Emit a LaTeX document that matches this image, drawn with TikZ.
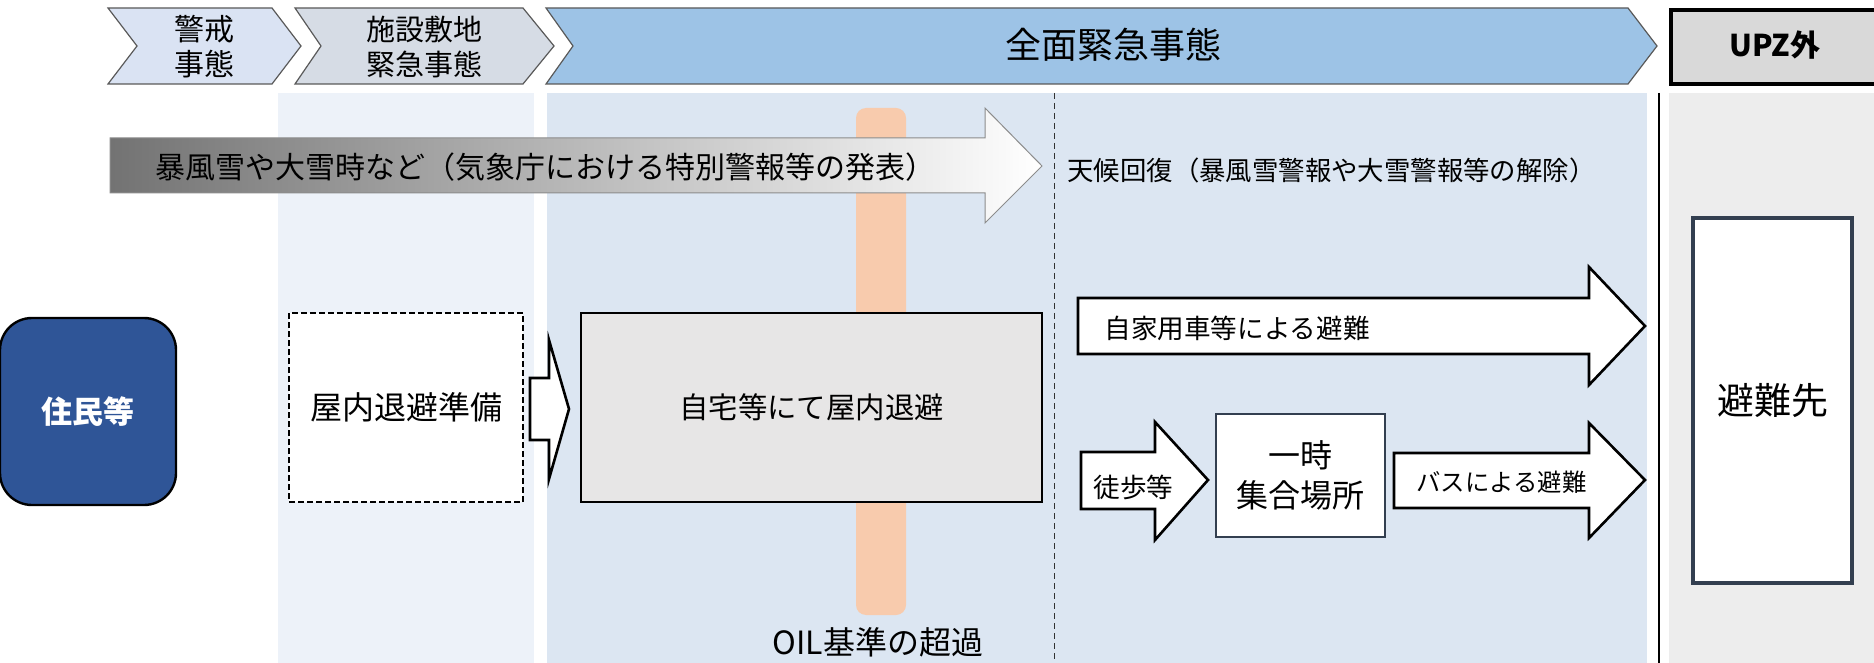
\documentclass[tikz,border=0pt]{standalone}
\usepackage{fontspec}
\setmainfont{Noto Sans CJK JP}
\definecolor{cOne}{HTML}{DAE3F3}
\definecolor{cTwo}{HTML}{D6DCE5}
\definecolor{cThree}{HTML}{9DC3E6}
\definecolor{cUpz}{HTML}{D9D9D9}
\definecolor{pOne}{HTML}{EDF2F9}
\definecolor{pTwo}{HTML}{DCE6F2}
\definecolor{pThree}{HTML}{EDEDED}
\definecolor{oBar}{HTML}{F8CBAD}
\definecolor{resBlue}{HTML}{2F5597}
\definecolor{homeGray}{HTML}{E7E6E6}
\definecolor{slate}{HTML}{333F50}
\begin{document}
\begin{tikzpicture}[x=0.5pt,y=-0.5pt,
  chev/.style={draw=black!65, line width=0.6pt},
  barrow/.style={draw=black, line width=1.3pt, fill=white, line join=miter},
  txt/.style={inner sep=0pt, text=black},
  boxline/.style={draw=black, line width=1.1pt},
]
\useasboundingbox (0,0) rectangle (1874,663);
% background panels
\fill[pOne] (278,93) rectangle (534,663);
\fill[pTwo] (547,93) rectangle (1647,663);
\fill[pThree] (1669,93) rectangle (1874,663);
\coordinate (lineTop) at (1659,93);
\coordinate (lineBot) at (1659,663);
\draw[line width=0.8pt] (lineTop) -- (lineBot);
\coordinate (dashTop) at (1054,93);
\coordinate (dashBot) at (1054,663);
\draw[black!80, line width=0.5pt, dash pattern=on 3pt off 2pt] (dashTop) -- (dashBot);
% orange bar
\fill[oBar, rounded corners=5pt] (856,108) rectangle (906,615);
% header chevrons
\draw[chev, fill=cOne] (108,8) -- (272,8) -- (301,46) -- (272,84) -- (108,84) -- (137,46) -- cycle;
\draw[chev, fill=cTwo] (295,8) -- (523,8) -- (554,46) -- (523,84) -- (295,84) -- (321,46) -- cycle;
\draw[chev, fill=cThree] (546,8) -- (1628,8) -- (1657,46) -- (1628,84) -- (546,84) -- (573,46) -- cycle;
\draw[line width=1.6pt, fill=cUpz] (1671,10) rectangle (1885,84);
\node[txt, font=\fontsize{15}{17.5}\selectfont, align=center] (alert) at (204,47) {警戒\\事態};
\node[txt, font=\fontsize{14.5}{17.5}\selectfont, align=center] (site) at (424,47) {施設敷地\\緊急事態};
\node[txt, font=\fontsize{18}{20}\selectfont] (general) at (1113,45) {全面緊急事態};
\node[txt, font=\fontsize{15}{18}\selectfont\bfseries] (upz) at (1775,45) {UPZ外};
% gradient arrow
\shade[left color=black!55, right color=white, draw=black!45, line width=0.5pt]
  (110,138) -- (985,138) -- (985,108) -- (1042,166) -- (985,223) -- (985,193) -- (110,193) -- cycle;
\node[txt, font=\fontsize{15}{18}\selectfont] (storm) at (545,167) {暴風雪や大雪時など（気象庁における特別警報等の発表）};
\node[txt, anchor=west, font=\fontsize{13.2}{16}\selectfont] (recover) at (1067,170) {天候回復（暴風雪警報や大雪警報等の解除）};
% residents
\node[draw=black, line width=1.2pt, fill=resBlue, rounded corners=16pt, minimum width=88pt, minimum height=93.5pt, inner sep=0pt,
  text=white, font=\fontsize{15.5}{18}\selectfont\bfseries] (res) at (88,411.5) {住民等};
% preparation box
\node[draw=black, line width=1pt, dash pattern=on 3pt off 1.5pt, fill=white, minimum width=117pt, minimum height=94.5pt, inner sep=0pt,
  font=\fontsize{16}{19}\selectfont] (prep) at (406,407.5) {屋内退避準備};
% small block arrow
\draw[barrow] (530,378) -- (549,378) -- (549,340) -- (569,409) -- (549,479) -- (549,440) -- (530,440) -- cycle;
% home shelter box
\node[boxline, fill=homeGray, minimum width=230.5pt, minimum height=94.5pt, inner sep=0pt,
  font=\fontsize{14.7}{18}\selectfont] (home) at (811.5,407.5) {自宅等にて屋内退避};
% car arrow
\draw[barrow] (1078,298) -- (1589,298) -- (1589,267) -- (1645,326) -- (1589,385) -- (1589,354) -- (1078,354) -- cycle;
\node[txt, anchor=west, font=\fontsize{13.3}{16}\selectfont] (car) at (1104,328) {自家用車等による避難};
% walk arrow
\draw[barrow] (1081,452) -- (1155,452) -- (1155,422) -- (1208,480) -- (1155,540) -- (1155,509) -- (1081,509) -- cycle;
\node[txt, anchor=west, font=\fontsize{13.3}{16}\selectfont] (walk) at (1093,487) {徒歩等};
% temporary gathering place
\node[draw=slate, line width=1pt, fill=white, minimum width=84.5pt, minimum height=61.5pt, inner sep=0pt, align=center,
  font=\fontsize{16}{20}\selectfont] (temp) at (1300.5,475.5) {一時\\集合場所};
% bus arrow
\draw[barrow] (1394,453) -- (1589,453) -- (1589,423) -- (1645,480) -- (1589,538) -- (1589,508) -- (1394,508) -- cycle;
\node[txt, anchor=west, font=\fontsize{12.2}{15}\selectfont] (bus) at (1416,482) {バスによる避難};
% destination
\node[draw=slate, line width=2pt, fill=white, minimum width=79.5pt, minimum height=182.5pt, inner sep=0pt,
  font=\fontsize{18.5}{22}\selectfont] (dest) at (1772.5,400.5) {避難先};
% OIL label
\node[txt, font=\fontsize{16}{19}\selectfont] (oil) at (878,642) {OIL基準の超過};
\end{tikzpicture}
\end{document}
